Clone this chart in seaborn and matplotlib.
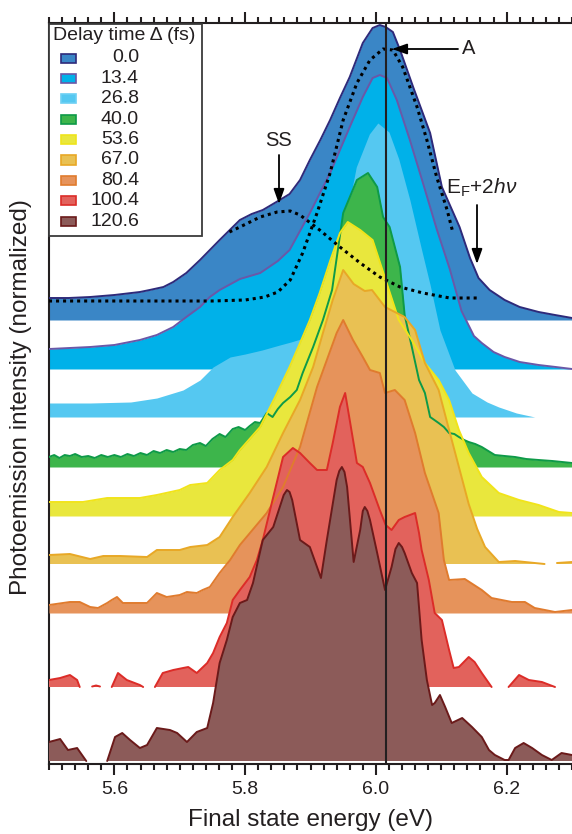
import numpy as np
import pandas as pd
import matplotlib
matplotlib.use("Agg")
import matplotlib.pyplot as plt
from matplotlib.patches import Rectangle
from matplotlib.ticker import MultipleLocator
import seaborn as sns

nan = np.nan

# ---------------- data ----------------
delays = ["0.0", "13.4", "26.8", "40.0", "53.6", "67.0", "80.4", "100.4", "120.6"]
offsets = [444, 395, 347, 297, 248, 200, 151, 77, 3]

e_000 = [5.500, 5.530, 5.563, 5.600, 5.639, 5.654, 5.675, 5.690, 5.710, 5.731,
         5.761, 5.792, 5.810, 5.827, 5.853, 5.868, 5.884, 5.899, 5.915, 5.930,
         5.945, 5.960, 5.980, 5.995, 6.006, 6.015, 6.026, 6.037, 6.057, 6.083,
         6.101, 6.128, 6.144, 6.157, 6.174, 6.197, 6.220, 6.249, 6.274, 6.300]
h_000 = [22, 22, 23, 25, 28, 30, 33, 38, 47, 60,
         80, 100, 106, 110, 120, 126, 140, 160, 180, 200,
         222, 243, 277, 292, 295, 293, 288, 270, 233, 187,
         133, 93, 62, 42, 30, 20, 13, 8, 5, 2]

e_134 = [5.500, 5.563, 5.600, 5.639, 5.665, 5.690, 5.710, 5.731, 5.746, 5.761,
         5.792, 5.823, 5.850, 5.868, 5.899, 5.930, 5.960, 5.980, 5.995, 6.006,
         6.017, 6.032, 6.052, 6.072, 6.093, 6.113, 6.131, 6.150, 6.162, 6.180,
         6.197, 6.220, 6.249, 6.275, 6.300]
h_134 = [20, 22, 24, 29, 34, 42, 52, 62, 72, 79,
         90, 96, 108, 119, 156, 196, 242, 272, 291, 294,
         291, 269, 229, 186, 140, 100, 58, 33, 26, 17,
         12, 7, 4, 2, 0]

e_268 = [5.500, 5.563, 5.625, 5.665, 5.705, 5.731, 5.751, 5.777, 5.800, 5.826,
         5.853, 5.870, 5.895, 5.915, 5.930, 5.945, 5.955, 5.970, 5.990, 6.003,
         6.020, 6.035, 6.052, 6.070, 6.083, 6.098, 6.121, 6.147, 6.170, 6.188,
         6.215, 6.243]
h_268 = [14, 14, 15, 19, 27, 37, 50, 60, 63, 67,
         72, 75, 80, 95, 110, 160, 200, 250, 283, 294,
         285, 258, 217, 167, 132, 87, 47, 24, 15, 10,
         4, 0]

e_400 = [5.500, 5.508, 5.516, 5.524, 5.532, 5.540, 5.550, 5.560, 5.570, 5.580,
         5.590, 5.600, 5.610, 5.620, 5.630, 5.640, 5.650, 5.660, 5.670, 5.680,
         5.690, 5.700, 5.710, 5.720, 5.731, 5.740, 5.750, 5.761, 5.770, 5.781,
         5.790, 5.800, 5.807, 5.815, 5.823, 5.833, 5.842, 5.850, 5.858, 5.869,
         5.879, 5.888, 5.904, 5.919, 5.933, 5.950, 5.971, 5.988, 6.002, 6.011,
         6.021, 6.037, 6.044, 6.055, 6.066, 6.075, 6.083, 6.096, 6.104, 6.112,
         6.120, 6.127, 6.135, 6.142, 6.152, 6.162, 6.172, 6.182, 6.197, 6.213,
         6.230, 6.249, 6.270, 6.285, 6.300]
h_400 = [10, 12, 9, 12, 11, 13, 10, 11, 9, 12,
         10, 12, 10, 13, 11, 14, 12, 16, 14, 17,
         15, 18, 17, 22, 24, 21, 28, 33, 30, 38,
         40, 37, 41, 45, 44, 54, 50, 58, 64, 70,
         77, 94, 120, 147, 177, 254, 287, 294, 280, 250,
         240, 200, 152, 120, 87, 74, 50, 44, 40, 34,
         33, 30, 27, 25, 23, 20, 16, 12, 11, 10,
         8, 7, 6, 5, 4]

e_536 = [5.500, 5.552, 5.589, 5.639, 5.665, 5.700, 5.716, 5.742, 5.761, 5.781,
         5.792, 5.823, 5.849, 5.868, 5.884, 5.899, 5.914, 5.930, 5.945, 5.957,
         5.976, 5.995, 6.015, 6.035, 6.055, 6.075, 6.096, 6.112, 6.127, 6.142,
         6.162, 6.188, 6.219, 6.249, 6.280, 6.300]
h_536 = [14, 14, 18, 18, 21, 26, 31, 33, 46, 56,
         66, 89, 123, 149, 173, 196, 223, 255, 283, 294,
         286, 276, 236, 196, 176, 153, 136, 116, 86, 63,
         39, 23, 16, 11, 4, 3]

e_670 = [5.500, 5.532, 5.563, 5.583, 5.609, 5.650, 5.665, 5.700, 5.716, 5.742,
         5.761, 5.781, 5.807, 5.833, 5.858, 5.884, 5.904, 5.919, 5.934, 5.950,
         5.966, 5.983, 5.994, 6.014, 6.044, 6.060, 6.075, 6.096, 6.112, 6.127,
         6.142, 6.155, 6.167, 6.188, 6.213, 6.228, 6.258, 6.262, 6.277, 6.300]
h_670 = [9, 10, 5, 8, 8, 7, 14, 14, 17, 19,
         27, 47, 71, 97, 131, 164, 197, 231, 264, 294,
         280, 273, 274, 257, 247, 234, 201, 174, 134, 97,
         60, 35, 17, 2, 3, 2, 0, nan, 1, 2]

e_804 = [5.500, 5.532, 5.547, 5.563, 5.575, 5.589, 5.596, 5.604, 5.613, 5.639,
         5.650, 5.665, 5.680, 5.700, 5.711, 5.726, 5.735, 5.746, 5.761, 5.777,
         5.792, 5.833, 5.858, 5.884, 5.910, 5.925, 5.940, 5.950, 5.965, 5.980,
         5.991, 6.006, 6.014, 6.029, 6.044, 6.060, 6.075, 6.096, 6.104, 6.112,
         6.136, 6.162, 6.177, 6.208, 6.228, 6.243, 6.274, 6.300]
h_804 = [8, 11, 11, 6, 5, 10, 13, 16, 10, 10,
         10, 20, 16, 18, 21, 20, 23, 26, 40, 53,
         68, 100, 126, 166, 226, 253, 280, 293, 273, 256,
         243, 240, 220, 223, 213, 180, 140, 100, 53, 33,
         34, 23, 15, 11, 11, 5, 1, 3]

e_1004 = [5.500, 5.517, 5.532, 5.543, 5.547, 5.550, 5.566, 5.572, 5.578, 5.585,
          5.596, 5.6055, 5.619, 5.639, 5.644, 5.650, 5.662, 5.674, 5.690, 5.705,
          5.713, 5.726, 5.742, 5.751, 5.761, 5.772, 5.781, 5.792, 5.807, 5.818,
          5.827, 5.843, 5.858, 5.873, 5.884, 5.899, 5.910, 5.925, 5.934, 5.945,
          5.953, 5.960, 5.971, 5.980, 5.991, 6.006, 6.015, 6.024, 6.035, 6.044,
          6.060, 6.066, 6.070, 6.081, 6.090, 6.101, 6.112, 6.119, 6.127, 6.142,
          6.151, 6.162, 6.177, 6.185, 6.203, 6.219, 6.234, 6.254, 6.274]
h_1004 = [7, 9, 12, 7, 0, nan, 0.5, 1.5, 0.5, nan,
          0, 14, 7, 2, 0, nan, 0, 14, 17, 19,
          20, 14, 24, 34, 50, 64, 87, 97, 110, 127,
          147, 190, 230, 239, 234, 224, 217, 217, 244, 280,
          294, 267, 224, 220, 204, 177, 162, 157, 167, 170,
          174, 154, 137, 107, 74, 67, 37, 19, 20, 30,
          25, 14, 0, nan, 0, 12, 7, 5, 0]

e_1206 = [5.500, 5.517, 5.529, 5.543, 5.557, 5.570, 5.589, 5.601, 5.612, 5.624,
          5.639, 5.650, 5.665, 5.685, 5.696, 5.711, 5.726, 5.742, 5.751, 5.761,
          5.772, 5.781, 5.792, 5.803, 5.812, 5.820, 5.827, 5.843, 5.853, 5.859,
          5.864, 5.868, 5.872, 5.884, 5.899, 5.916, 5.925, 5.940, 5.944, 5.948,
          5.952, 5.956, 5.966, 5.976, 5.980, 5.983, 5.987, 5.991, 6.002, 6.014,
          6.024, 6.030, 6.035, 6.040, 6.044, 6.055, 6.063, 6.070, 6.078, 6.086,
          6.090, 6.098, 6.106, 6.116, 6.132, 6.147, 6.162, 6.173, 6.182, 6.197,
          6.203, 6.213, 6.226, 6.239, 6.254, 6.269, 6.284, 6.300]
h_1206 = [19, 22, 11, 13, 0, nan, 0, 24, 28, 21,
          13, 16, 33, 31, 28, 19, 29, 33, 58, 98,
          121, 144, 158, 161, 178, 201, 221, 234, 254, 266,
          271, 269, 261, 221, 214, 183, 221, 281, 290, 294,
          289, 274, 199, 231, 250, 254, 250, 241, 208, 171,
          194, 212, 218, 214, 208, 188, 178, 121, 81, 56,
          58, 66, 54, 38, 43, 34, 24, 11, 6, 1,
          1, 13, 18, 13, 6, 1, 8, 6]

# fitted components (on the 0.0 fs trace)
e_fit_a = [5.50, 5.75, 5.80, 5.83, 5.85, 5.869, 5.888, 5.91, 5.93, 5.95,
           5.971, 5.991, 6.011, 6.026, 6.041, 6.063, 6.078, 6.093, 6.109, 6.118]
h_fit_a = [19, 19, 20, 23, 28, 40, 67, 107, 147, 200,
           237, 260, 271, 270, 253, 213, 180, 143, 110, 87]
e_fit_ss = [5.776, 5.792, 5.823, 5.849, 5.869, 5.884,
            5.914, 5.945, 5.976, 6.006, 6.037, 6.072, 6.113, 6.159]
h_fit_ss = [88, 93, 103, 108, 109, 105,
            90, 73, 57, 43, 33, 27, 22, 22]

fermi_edge = 6.015

energies = [e_000, e_134, e_268, e_400, e_536, e_670, e_804, e_1004, e_1206]
heights = [h_000, h_134, h_268, h_400, h_536, h_670, h_804, h_1004, h_1206]

fills = ["#3a86c6", "#00b1e9", "#55c8f1", "#3db54b", "#e9e73d",
         "#e9c153", "#e6935b", "#e2625c", "#8c5b59"]
edges = ["#2e2a7a", "#6a58a8", None, "#0e9a48", "#f1e41a",
         "#e8a826", "#e07b2e", "#dc2c28", "#6b1a1a"]
leg_edges = ["#2e2a7a", "#6a58a8", "#6dd0f4", "#0e9a48", "#efe41c",
             "#e8a826", "#e07b2e", "#dc2c28", "#6b1a1a"]

# ---------------- figure ----------------
sns.set_theme(style="ticks")
plt.rcParams["font.family"] = ["Liberation Sans", "DejaVu Sans"]
plt.rcParams["mathtext.fontset"] = "custom"
plt.rcParams["mathtext.rm"] = "Liberation Sans"
plt.rcParams["mathtext.it"] = "Liberation Sans:italic"
plt.rcParams["mathtext.bf"] = "Liberation Sans:bold"

W, H = 572, 834
AX_L, AX_R, AX_T, AX_B = 49, 572, 23, 764
fig = plt.figure(figsize=(W / 100, H / 100), dpi=100)
ax = fig.add_axes([AX_L / W, 1 - AX_B / H, (AX_R - AX_L) / W, (AX_B - AX_T) / H])

XMIN, XMAX = 5.5, 6.3
PXE = (AX_R - AX_L) / (XMAX - XMIN)


def dx(px):
    return XMIN + (px - AX_L) / PXE


def dy(py):
    return AX_B - py


def fx(px):
    return px / W


def fy(py):
    return 1 - py / H


INK = "#231f20"

for i, (E, h) in enumerate(zip(energies, heights)):
    E = np.asarray(E, float)
    y = offsets[i] + np.asarray(h, float)
    ax.fill_between(E, offsets[i], y, color=fills[i], lw=0, zorder=2 + 0.1 * i)
    if edges[i] is not None:
        seg = np.cumsum(np.isnan(y))
        df = pd.DataFrame({"E": E, "y": y, "seg": seg}).dropna()
        sns.lineplot(data=df, x="E", y="y", units="seg", estimator=None,
                     sort=False, color=edges[i], lw=1.4, ax=ax,
                     zorder=4 + 0.1 * i)

for e_fit, h_fit in [(e_fit_a, h_fit_a), (e_fit_ss, h_fit_ss)]:
    sns.lineplot(x=e_fit, y=offsets[0] + np.asarray(h_fit, float),
                 color="black", lw=2.2, ax=ax, zorder=5)
    ln = ax.lines[-1]
    ln.set_linestyle((0, (1, 1.3)))
    ln.set_dash_capstyle("butt")

ax.axvline(fermi_edge, color=INK, lw=1.5, zorder=6)

ax.set_xlim(XMIN, XMAX)
ax.set_ylim(0, AX_B - AX_T)
ax.set_xlabel("")
ax.set_ylabel("")
ax.set_yticks([])
ax.set_xticks([5.6, 5.8, 6.0, 6.2])
ax.set_xticklabels(["5.6", "5.8", "6.0", "6.2"])
ax.xaxis.set_minor_locator(MultipleLocator(0.02))
ax.tick_params(axis="x", which="both", top=True, bottom=True, direction="out",
               width=1.5, color=INK, labelcolor=INK, labelsize=14, pad=4.5)
ax.tick_params(axis="x", which="major", length=8)
ax.tick_params(axis="x", which="minor", length=4.5)
ax.spines["right"].set_visible(False)
for s in ["left", "top", "bottom"]:
    ax.spines[s].set_linewidth(1.5)
    ax.spines[s].set_color(INK)

# annotations
arw = dict(arrowstyle="-|>,head_length=0.45,head_width=0.16", color="black",
           lw=1.3, mutation_scale=20, shrinkA=0, shrinkB=0)
ax.annotate("", xy=(dx(279), dy(204)), xytext=(dx(279), dy(155)), arrowprops=arw, zorder=7)
ax.text(dx(279), dy(140), "SS", fontsize=14.5, ha="center", va="center", color=INK, zorder=7)
ax.annotate("", xy=(dx(392), dy(49)), xytext=(dx(458), dy(49)), arrowprops=arw, zorder=7)
ax.text(dx(469), dy(48), "A", fontsize=14.5, ha="center", va="center", color=INK, zorder=7)
ax.annotate("", xy=(dx(477), dy(264)), xytext=(dx(477), dy(205)), arrowprops=arw, zorder=7)
ax.text(dx(482), dy(188), r"E$_\mathrm{F}$+2$h\nu$", fontsize=15, ha="center",
        va="center", color=INK, zorder=7)

# legend (drawn as a box)
fig.add_artist(Rectangle((fx(49), fy(236)), fx(202) - fx(49), fy(23.5) - fy(236),
                         transform=fig.transFigure, facecolor="white",
                         edgecolor="#3a3a3a", lw=1.3, zorder=10))
fig.text(fx(53), fy(35), "Delay time Δ (fs)", fontsize=14, ha="left",
         va="center", color=INK, zorder=11)
for i, lab in enumerate(delays):
    yc = 58 + 20.4 * i
    fig.add_artist(Rectangle((fx(61), fy(yc + 4.5)), fx(76) - fx(61),
                             fy(yc - 4.5) - fy(yc + 4.5),
                             transform=fig.transFigure, facecolor=fills[i],
                             edgecolor=leg_edges[i], lw=1.2, zorder=11))
    fig.text(fx(139), fy(yc), lab, fontsize=14, ha="right", va="center",
             color=INK, zorder=11)

fig.text(fx(21), fy(397), "Photoemission intensity (normalized)", rotation=90,
         fontsize=17.5, ha="center", va="center", color=INK)
fig.text(fx(311), fy(820), "Final state energy (eV)", fontsize=17.5,
         ha="center", va="center", color=INK)

fig.savefig("out.png", dpi=100)
